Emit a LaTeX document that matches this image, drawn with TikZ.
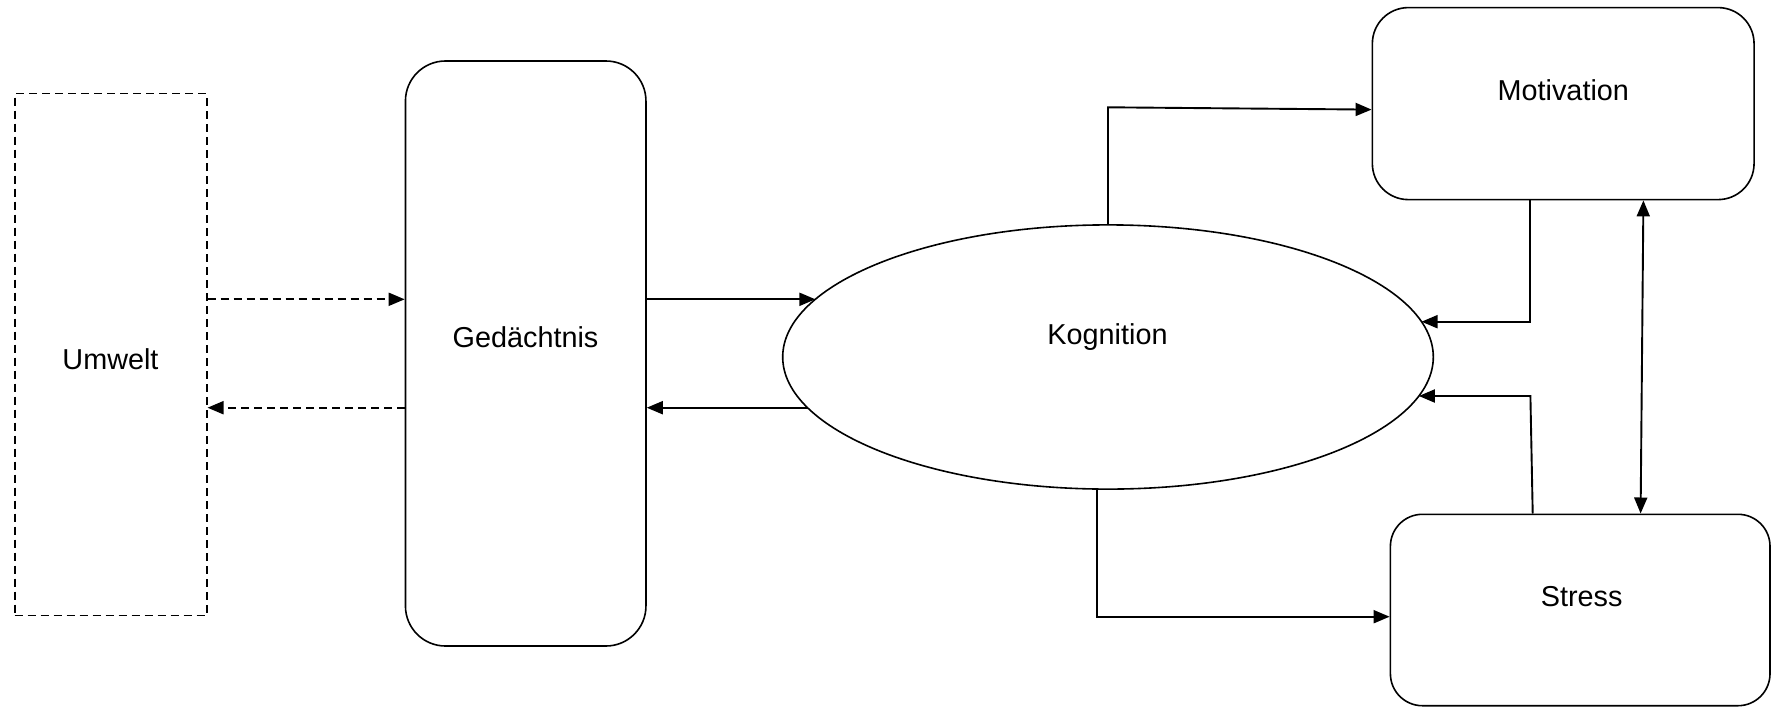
\documentclass[tikz,border=0pt]{standalone}
\usepackage{fontspec}
\setmainfont{Liberation Sans}
\usetikzlibrary{arrows.meta,shapes.geometric}

\tikzset{
  box/.style={draw, line width=1.6pt, rounded corners=38pt, inner sep=0pt},
  envbox/.style={draw, line width=1.6pt, dash pattern=on 8pt off 5pt, inner sep=0pt},
  cloud/.style={draw, ellipse, line width=1.6pt, inner sep=0pt},
  lbl/.style={inner sep=0pt, text height=20.6pt, text depth=0pt,
    font=\fontsize{28.8}{34}\selectfont},
  conn/.style={line width=1.9pt, -{Triangle[length=16pt,width=13pt]}},
  dconn/.style={conn, dash pattern=on 8pt off 5pt},
  biconn/.style={line width=1.9pt, {Triangle[length=16pt,width=13pt]}-{Triangle[length=16pt,width=13pt]}},
}

\begin{document}
\begin{tikzpicture}[x=1pt,y=-1pt]
\useasboundingbox (0,0) rectangle (1771,707);

% shapes
\node[envbox, minimum width=192pt, minimum height=522pt] (umw) at (110.7,354.6) {};
\node[box, minimum width=240.5pt, minimum height=585pt, rounded corners=40pt] (ged) at (525.7,353.5) {};
\node[cloud, minimum width=650.6pt, minimum height=264.2pt] (kog) at (1108,357) {};
\node[box, minimum width=381.7pt, minimum height=192pt, rounded corners=36pt] (mot) at (1563.2,103.6) {};
\node[box, minimum width=379.6pt, minimum height=191.4pt, rounded corners=32pt] (str) at (1580.2,610) {};

% labels
\node[lbl] (tumw) at (110.5,358.8) {Umwelt};
\node[lbl] (tged) at (525.5,336.7) {Gedächtnis};
\node[lbl] (tkog) at (1107.5,334.5) {Kognition};
\node[lbl] (tmot) at (1563.3,90) {Motivation};
\node[lbl] (tstr) at (1581.7,596.2) {Stress};

% points on the ellipse border where the connectors meet it
\coordinate (kUL) at ([xshift=-292.6pt,yshift=57.7pt]kog.center);
\coordinate (kLL) at ([xshift=-300.4pt,yshift=-50.7pt]kog.center);
\coordinate (kUR) at ([xshift=313.5pt,yshift=35.3pt]kog.center);
\coordinate (kLR) at ([xshift=310.8pt,yshift=-39pt]kog.center);
\coordinate (kB)  at ([xshift=-11.3pt,yshift=-132pt]kog.center);

% height levels of the connectors
\coordinate (yA) at (0,299.3);
\coordinate (yB) at (0,407.7);
\coordinate (yT) at (0,107.3);
\coordinate (yU) at (0,616.7);

% environment <-> memory
\draw[dconn] (umw.east |- yA) -- (ged.west |- yA);
\draw[dconn] (ged.west |- yB) -- (umw.east |- yB);

% memory <-> cognition
\draw[conn] (ged.east |- kUL) -- (kUL);
\draw[conn] (kLL) -- (ged.east |- kLL);

% cognition -> motivation
\draw[conn] (kog.north) -- (kog.north |- yT) -- ([yshift=-6pt]mot.west);

% motivation -> cognition
\coordinate (mdrop) at ([xshift=-32.8pt]mot.south);
\draw[conn] (mdrop) -- (mdrop |- kUR) -- (kUR);

% stress -> cognition
\coordinate (srise) at ([xshift=-47.5pt]str.north);
\draw[conn] (srise) -- ([xshift=-2.3pt]srise |- kLR) -- (kLR);

% motivation <-> stress
\draw[biconn] ([xshift=80.2pt]mot.south) -- ([xshift=60.4pt]str.north);

% cognition -> stress
\draw[conn] (kB) -- (kB |- yU) -- (str.west |- yU);
\end{tikzpicture}
\end{document}
